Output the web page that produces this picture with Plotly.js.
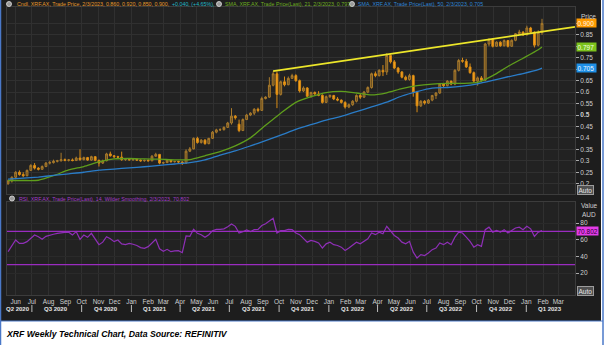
<!DOCTYPE html>
<html><head><meta charset="utf-8">
<script src="https://cdn.plot.ly/plotly-3.0.1.min.js"></script>
<style>html,body{margin:0;padding:0;background:#fff;}#chart{width:606px;height:345px;}</style>
</head><body><div id="chart"></div>
<script>
// ---- data (weekly, XRF.AX) ----
const firstWeek = '2020-05-18';
const opens = [
0.200,0.212,0.228,0.250,0.240,0.235,0.258,0.280,0.268,0.263,
0.275,0.290,0.292,0.298,0.300,0.305,0.302,0.304,0.301,0.312,
0.305,0.314,0.303,0.318,0.302,0.290,0.300,0.330,0.322,0.318,
0.316,0.305,0.306,0.304,0.306,0.303,0.300,0.302,0.300,0.320,
0.328,0.290,0.292,0.302,0.296,0.297,0.295,0.290,0.342,0.352,
0.398,0.380,0.390,0.375,0.398,0.425,0.435,0.436,0.446,0.465,
0.495,0.460,0.432,0.480,0.500,0.508,0.525,0.520,0.572,0.578,
0.630,0.680,0.590,0.645,0.632,0.660,0.672,0.650,0.605,0.618,
0.582,0.598,0.592,0.586,0.555,0.580,0.585,0.570,0.565,0.555,
0.535,0.545,0.560,0.585,0.578,0.600,0.620,0.680,0.672,0.695,
0.688,0.760,0.732,0.705,0.688,0.665,0.655,0.672,0.600,0.540,
0.560,0.552,0.565,0.585,0.596,0.635,0.628,0.648,0.635,0.695,
0.738,0.735,0.710,0.685,0.648,0.662,0.652,0.810,0.830,0.800,
0.818,0.802,0.825,0.800,0.826,0.855,0.862,0.850,0.880,0.862,
0.805,0.860];
const highs = [
0.218,0.232,0.255,0.258,0.250,0.262,0.285,0.290,0.272,0.280,
0.295,0.300,0.305,0.304,0.335,0.310,0.308,0.310,0.318,0.350,
0.318,0.317,0.322,0.320,0.305,0.305,0.335,0.340,0.325,0.322,
0.340,0.310,0.310,0.309,0.310,0.306,0.305,0.306,0.325,0.335,
0.330,0.296,0.305,0.305,0.300,0.300,0.298,0.350,0.360,0.402,
0.405,0.395,0.395,0.400,0.430,0.440,0.442,0.450,0.470,0.530,
0.500,0.480,0.485,0.505,0.512,0.530,0.532,0.580,0.582,0.665,
0.690,0.690,0.650,0.668,0.668,0.680,0.678,0.655,0.625,0.622,
0.602,0.603,0.604,0.590,0.585,0.590,0.588,0.578,0.568,0.560,
0.550,0.565,0.590,0.595,0.605,0.625,0.685,0.690,0.700,0.718,
0.770,0.765,0.740,0.710,0.692,0.672,0.680,0.676,0.605,0.565,
0.565,0.570,0.588,0.600,0.640,0.640,0.652,0.650,0.700,0.745,
0.750,0.745,0.725,0.690,0.668,0.670,0.815,0.835,0.835,0.822,
0.822,0.830,0.828,0.830,0.858,0.872,0.866,0.890,0.885,0.865,
0.870,0.920];
const lows = [
0.195,0.205,0.225,0.235,0.228,0.232,0.255,0.262,0.258,0.260,
0.272,0.284,0.288,0.293,0.297,0.298,0.297,0.298,0.299,0.300,
0.302,0.300,0.300,0.298,0.275,0.286,0.298,0.318,0.312,0.312,
0.300,0.300,0.302,0.300,0.301,0.296,0.296,0.297,0.298,0.318,
0.285,0.285,0.290,0.292,0.292,0.291,0.282,0.288,0.338,0.350,
0.375,0.375,0.370,0.372,0.395,0.420,0.430,0.432,0.443,0.458,
0.480,0.425,0.430,0.478,0.495,0.500,0.512,0.518,0.568,0.575,
0.625,0.530,0.585,0.625,0.630,0.658,0.645,0.598,0.600,0.578,
0.575,0.588,0.582,0.550,0.552,0.574,0.565,0.560,0.550,0.528,
0.530,0.540,0.555,0.570,0.575,0.595,0.615,0.665,0.668,0.670,
0.675,0.725,0.700,0.680,0.660,0.650,0.650,0.580,0.512,0.535,
0.545,0.548,0.560,0.570,0.592,0.620,0.625,0.630,0.630,0.690,
0.728,0.705,0.680,0.640,0.628,0.645,0.648,0.800,0.795,0.798,
0.798,0.800,0.795,0.798,0.822,0.852,0.845,0.848,0.858,0.795,
0.800,0.850];
const closes = [
0.212,0.228,0.250,0.240,0.235,0.258,0.280,0.268,0.263,0.275,
0.290,0.292,0.298,0.300,0.305,0.302,0.304,0.301,0.312,0.305,
0.314,0.303,0.318,0.302,0.290,0.300,0.330,0.322,0.318,0.316,
0.305,0.306,0.304,0.306,0.303,0.300,0.302,0.300,0.320,0.328,
0.290,0.292,0.302,0.296,0.297,0.295,0.290,0.342,0.352,0.398,
0.380,0.390,0.375,0.398,0.425,0.435,0.436,0.446,0.465,0.495,
0.488,0.432,0.480,0.500,0.508,0.525,0.520,0.572,0.578,0.630,
0.680,0.590,0.645,0.632,0.660,0.672,0.650,0.605,0.618,0.582,
0.598,0.592,0.586,0.555,0.580,0.585,0.570,0.565,0.555,0.535,
0.545,0.560,0.585,0.578,0.600,0.620,0.680,0.672,0.695,0.688,
0.760,0.732,0.705,0.688,0.665,0.655,0.672,0.600,0.540,0.560,
0.552,0.565,0.585,0.596,0.635,0.628,0.648,0.635,0.695,0.738,
0.735,0.710,0.685,0.648,0.662,0.652,0.810,0.830,0.800,0.818,
0.802,0.825,0.800,0.826,0.855,0.862,0.850,0.880,0.862,0.805,
0.860,0.900];
// SMA values read every 4th week (last = latest week)
const sma21 = [0.214,0.214,0.215,0.235,0.260,0.275,0.295,0.308,0.310,0.308,0.307,0.304,0.305,0.322,0.340,0.365,0.400,0.455,0.508,0.555,0.580,0.598,0.603,0.596,0.588,0.597,0.615,0.628,0.635,0.638,0.638,0.642,0.672,0.712,0.748,0.785,0.797];
const sma50 = [0.220,0.224,0.229,0.236,0.243,0.250,0.259,0.264,0.269,0.274,0.280,0.286,0.292,0.304,0.325,0.343,0.365,0.388,0.412,0.437,0.458,0.478,0.494,0.515,0.535,0.556,0.583,0.602,0.617,0.620,0.626,0.636,0.651,0.667,0.681,0.698,0.705];
const rsi14 = [
45.6,52,59.6,55.6,55.6,57.6,62,65.6,63.6,60.4,
64,65.6,66.5,67.6,68.5,68.8,69,65.6,69.6,60.4,
65.6,62.8,67.6,60,54,57,63.6,61,57.6,59.6,
55,54,55.6,54.5,53,50.5,49.6,51.6,56,60.4,
49,46,48.4,45.6,46.5,46.8,44.4,64.4,64,72.4,
67.6,66,62.8,66,70.8,72.4,72.4,73,75.6,78.8,
76,68,69.5,71.6,69.6,72,72.4,77,79,82,
85.6,68,70.8,70.8,72.4,72,68,66,62,57,
59,58,56,50,55,57,54,53,51,47,
50,53,57,55,58,61,68,66,69,67,
76,70,65,62,57,55,58,45,38,42,
41,44,48,50,56,54,57,54,63,69,
68,63,58,51,54,52,72,75,69,71,
69,72,68,71,74,75,72,76,73,64,
69,70.802];
const trendDates = ['2021-09-20','2023-04-01'];
const trendValues = [0.692,0.885];
const rsiLevels = [70,30];
const priceTickVals = [0.2,0.25,0.3,0.35,0.4,0.45,0.5,0.55,0.6,0.65,0.7,0.75,0.8,0.85,0.9];
const priceTickText = ['0.2','0.25','0.3','0.35','0.4','0.45','<b>0.5</b>','0.55','0.6','0.65','','0.75','','0.85',''];
const rsiTickVals = [20,40,60,80];
const rsiTickText = ['20','40','60','80'];
const monthTicks = ['2020-06-01','2020-07-01','2020-08-01','2020-09-01','2020-10-01','2020-11-01','2020-12-01','2021-01-01','2021-02-01','2021-03-01','2021-04-01','2021-05-01','2021-06-01','2021-07-01','2021-08-01','2021-09-01','2021-10-01','2021-11-01','2021-12-01','2022-01-01','2022-02-01','2022-03-01','2022-04-01','2022-05-01','2022-06-01','2022-07-01','2022-08-01','2022-09-01','2022-10-01','2022-11-01','2022-12-01','2023-01-01','2023-02-01','2023-03-01'];
const monthLabels = ['Jun','Jul','Aug','Sep','Oct','Nov','Dec','Jan','Feb','Mar','Apr','May','Jun','Jul','Aug','Sep','Oct','Nov','Dec','Jan','Feb','Mar','Apr','May','Jun','Jul','Aug','Sep','Oct','Nov','Dec','Jan','Feb','Mar'];
const quarterLabels = ['Q2 2020','Q3 2020','Q4 2020','Q1 2021','Q2 2021','Q3 2021','Q4 2021','Q1 2022','Q2 2022','Q3 2022','Q4 2022','Q1 2023'];
const quarterCenters = ['2020-06-06','2020-08-15','2020-11-15','2021-02-14','2021-05-16','2021-08-15','2021-11-15','2022-02-14','2022-05-16','2022-08-15','2022-11-15','2023-02-14'];
const quarterStarts = ['2020-07-01','2020-10-01','2021-01-01','2021-04-01','2021-07-01','2021-10-01','2022-01-01','2022-04-01','2022-07-01','2022-10-01','2023-01-01'];

// ---- build ----
const W = 606, H = 345;
const px = v => v / W, py = v => 1 - v / H;
const start = Date.parse(firstWeek + 'T00:00:00Z');
const weekDates = closes.map((_, i) => new Date(start + i * 7 * 864e5).toISOString().slice(0, 10));
const maDates = sma21.map((_, k) => weekDates[Math.min(k * 4, closes.length - 1)]);

const FONT = 'Liberation Sans, Arial, sans-serif';
const grid = '#303030';

const traces = [
  {type: 'candlestick', x: weekDates, open: opens, high: highs, low: lows, close: closes,
   xaxis: 'x', yaxis: 'y', whiskerwidth: 0, hoverinfo: 'skip',
   increasing: {line: {color: '#a87a2c', width: 1}, fillcolor: '#654c22'},
   decreasing: {line: {color: '#d88c16', width: 1}, fillcolor: '#ffa41a'}},
  {type: 'scatter', mode: 'lines', x: maDates, y: sma21, xaxis: 'x', yaxis: 'y',
   line: {color: '#5f9e1c', width: 1.3, shape: 'spline', smoothing: 0.6}, hoverinfo: 'skip'},
  {type: 'scatter', mode: 'lines', x: maDates, y: sma50, xaxis: 'x', yaxis: 'y',
   line: {color: '#2a7cc7', width: 1.3, shape: 'spline', smoothing: 0.6}, hoverinfo: 'skip'},
  {type: 'scatter', mode: 'lines', x: trendDates, y: trendValues, xaxis: 'x', yaxis: 'y',
   line: {color: '#ece62a', width: 1.8}, hoverinfo: 'skip'},
  {type: 'scatter', mode: 'lines', x: weekDates, y: rsi14, xaxis: 'x', yaxis: 'y2',
   line: {color: '#8e2fb6', width: 1.2}, hoverinfo: 'skip'}
];

const shapes = [];
rsiLevels.forEach(v => shapes.push({type: 'line', xref: 'x domain', yref: 'y2', x0: 0, x1: 1, y0: v, y1: v,
  line: {color: '#9a2cc0', width: 1.3}, layer: 'above'}));
quarterStarts.forEach(d => shapes.push({type: 'line', xref: 'x', yref: 'paper', x0: d, x1: d, y0: py(312), y1: py(305),
  line: {color: '#bdbdbd', width: 1}}));
// frame pieces
shapes.push({type: 'rect', xref: 'paper', yref: 'paper', x0: 0, x1: 1, y0: 0, y1: py(321), fillcolor: '#ffffff', line: {width: 0}, layer: 'above'});
shapes.push({type: 'rect', xref: 'paper', yref: 'paper', x0: px(601), x1: 1, y0: 0, y1: 1, fillcolor: '#ffffff', line: {width: 0}, layer: 'above'});
shapes.push({type: 'line', xref: 'paper', yref: 'paper', x0: 0, x1: px(603), y0: py(321), y1: py(321), line: {color: '#4a78c8', width: 1}, layer: 'above'});
shapes.push({type: 'line', xref: 'paper', yref: 'paper', x0: px(0.5), x1: px(0.5), y0: 0, y1: 1, line: {color: '#4a78c8', width: 1.5}, layer: 'above'});
shapes.push({type: 'line', xref: 'paper', yref: 'paper', x0: px(603), x1: px(603), y0: 0, y1: 1, line: {color: '#4a78c8', width: 1.5}, layer: 'above'});
// legend icons
[[9, 4], [219, 4], [352, 4], [12, 198.5]].forEach(([cx, cy]) => shapes.push({type: 'circle', xref: 'paper', yref: 'paper',
  x0: px(cx - 2.5), x1: px(cx + 2.5), y0: py(cy + 2.5), y1: py(cy - 2.5), fillcolor: '#9a9a9a', line: {color: '#e0e0e0', width: 0.8}, layer: 'above'}));

const ann = [];
const legendSeg = (x, y, text, color) => ann.push({xref: 'paper', yref: 'paper', x: px(x), y: py(y), xanchor: 'left', yanchor: 'middle',
  text: text, showarrow: false, font: {family: FONT, size: 5.3, color: color}});
legendSeg(15, 4, 'Cndl, XRF.AX, Trade Price, 2/3/2023, 0.860, 0.920, 0.850, 0.900,', '#e59a2c');
legendSeg(170, 4, '+0.040, (+4.65%),', '#22b8c8');
legendSeg(223, 4, 'SMA, XRF.AX, Trade Price(Last), 21, 2/3/2023, 0.797,', '#6fae22');
legendSeg(356, 4, 'SMA, XRF.AX, Trade Price(Last), 50, 2/3/2023, 0.705', '#2f86d6');
legendSeg(17, 198.5, 'RSI, XRF.AX, Trade Price(Last), 14, Wilder Smoothing, 2/3/2023, 70.802', '#a23cc8');

const sideLabel = (y, yref, text, bg, fc) => ann.push({xref: 'paper', yref: yref, x: px(575.5), y: y, xanchor: 'left', yanchor: 'middle',
  text: text, showarrow: false, bgcolor: bg, borderpad: 0.5, font: {family: FONT, size: 6.5, color: fc}});
sideLabel(closes[closes.length - 1], 'y', '0.900 ', '#ff9a00', '#fff6e0');
sideLabel(sma21[sma21.length - 1], 'y', '0.797 ', '#7cc21c', '#f4ffe8');
sideLabel(sma50[sma50.length - 1], 'y', '0.705 ', '#1e8fe6', '#eef7ff');
sideLabel(rsi14[rsi14.length - 1], 'y2', '70.802', '#e43ce8', '#2a0030');

const txt = (x, y, text, size, color, extra) => ann.push(Object.assign({xref: 'paper', yref: 'paper', x: px(x), y: py(y), xanchor: 'left', yanchor: 'middle',
  text: text, showarrow: false, font: {family: FONT, size: size, color: color}}, extra || {}));
txt(579, 17, 'Price', 6.5, '#cfcfcf');
txt(579, 205, 'Value', 6.5, '#cfcfcf');
txt(580, 214, 'AUD', 6.5, '#cfcfcf');
txt(577, 190, 'Auto', 6.5, '#e6e6e6', {bgcolor: '#505050', bordercolor: '#9c9c9c', borderwidth: 1, borderpad: 0.5});
txt(577, 291, 'Auto', 6.5, '#e6e6e6', {bgcolor: '#505050', bordercolor: '#9c9c9c', borderwidth: 1, borderpad: 0.5});
txt(4, 333.5, '<b><i>XRF Weekly Technical Chart, Data Source: REFINITIV</i></b>', 8.7, '#000000');

quarterLabels.forEach((q, i) => ann.push({xref: 'x', yref: 'paper', x: quarterCenters[i], y: py(309), xanchor: 'center', yanchor: 'middle',
  text: '<b>' + q + '</b>', showarrow: false, font: {family: FONT, size: 6, color: '#e4e4e4'}}));

const layout = {
  width: W, height: H,
  margin: {l: 0, r: 0, t: 0, b: 0, pad: 0},
  paper_bgcolor: '#1d1d1d', plot_bgcolor: '#222222',
  font: {family: FONT, size: 6.5, color: '#c8c8c8'},
  showlegend: false,
  xaxis: {domain: [px(7), px(575)], anchor: 'y2', type: 'date', range: ['2020-05-16', '2023-04-01'],
    rangeslider: {visible: false}, tickmode: 'array', tickvals: monthTicks, ticktext: monthLabels,
    tickfont: {size: 6.5, color: '#cfcfcf'}, ticks: '', showgrid: true, gridcolor: grid, gridwidth: 1,
    showline: true, linecolor: '#3c3c3c', mirror: 'all', zeroline: false, fixedrange: true},
  yaxis: {domain: [py(194), py(7)], anchor: 'x', side: 'right', range: [0.155, 0.9716],
    tickmode: 'array', tickvals: priceTickVals, ticktext: priceTickText, ticks: 'outside', ticklen: 3, tickcolor: '#aaaaaa',
    tickfont: {size: 6.5, color: '#cfcfcf'}, showgrid: true, gridcolor: grid, gridwidth: 1,
    showline: true, linecolor: '#3c3c3c', mirror: true, zeroline: false, fixedrange: true},
  yaxis2: {domain: [py(295), py(202)], anchor: 'x', side: 'right', range: [-6.4, 105.2],
    tickmode: 'array', tickvals: rsiTickVals, ticktext: rsiTickText, ticks: 'outside', ticklen: 3, tickcolor: '#aaaaaa',
    tickfont: {size: 6.5, color: '#cfcfcf'}, showgrid: true, gridcolor: '#2a2a2a', gridwidth: 1,
    showline: true, linecolor: '#3c3c3c', mirror: true, zeroline: false, fixedrange: true},
  shapes: shapes,
  annotations: ann
};

Plotly.newPlot('chart', traces, layout, {staticPlot: true, displayModeBar: false});
</script>
</body></html>
